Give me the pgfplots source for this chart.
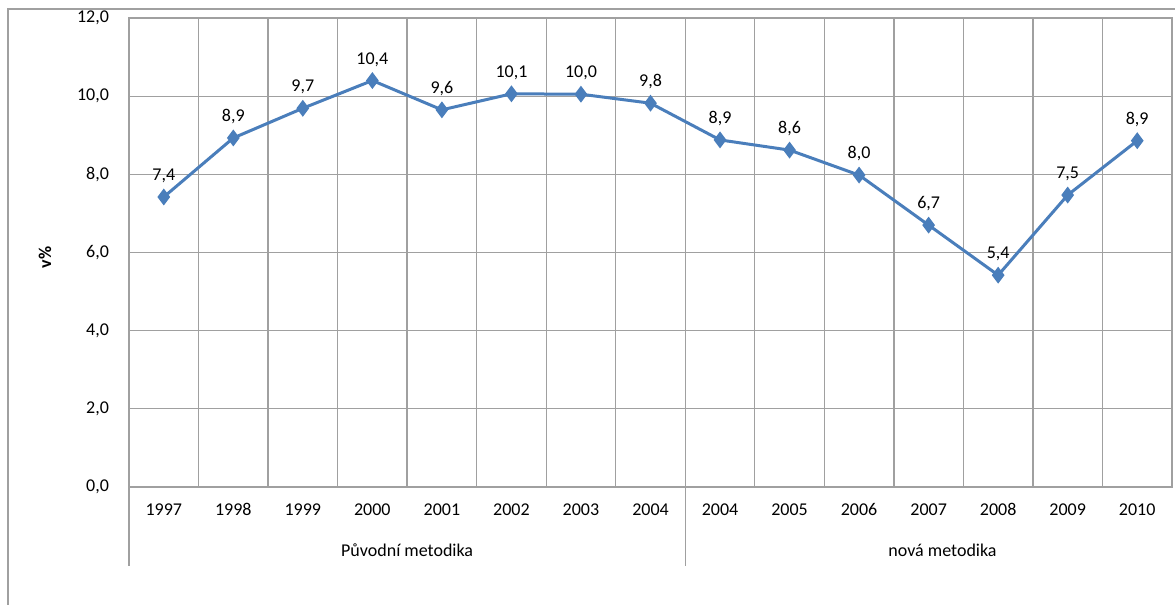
\documentclass[border=0pt]{standalone}
\usepackage{pgfplots}
\pgfplotsset{compat=1.18}
\usepackage{fontspec}
\setmainfont{Carlito}
\definecolor{lineblue}{HTML}{4A7EBB}
\definecolor{gridgray}{HTML}{A0A0A0}
\begin{document}
\begin{tikzpicture}
\useasboundingbox (0,0) rectangle (587.5pt,302.5pt);
\draw[gridgray, line width=0.7pt] (4pt,-5pt) -- (4pt,298pt) -- (600pt,298pt);
\begin{axis}[
  at={(64.5pt,59pt)}, anchor=south west, scale only axis,
  width=521.5pt, height=234.5pt,
  xmin=-0.5, xmax=14.5, ymin=0, ymax=12,
  clip=false,
  xtick={0,...,14},
  xticklabels={1997,1998,1999,2000,2001,2002,2003,2004,2004,2005,2006,2007,2008,2009,2010},
  minor xtick={-0.5,0.5,...,14.5},
  xminorgrids, ymajorgrids,
  ytick={0,2,...,12},
  major tick length=0pt, minor tick length=0pt,
  axis line style={gridgray, line width=0.65pt},
  grid style={gridgray, line width=0.65pt},
  minor grid style={gridgray, line width=0.65pt},
  font=\fontsize{9}{10}\selectfont,
  /pgf/number format/assume math mode=true,
  yticklabel style={xshift=-6.5pt, /pgf/number format/fixed, /pgf/number format/fixed zerofill, /pgf/number format/precision=1, /pgf/number format/use comma},
  xticklabel style={anchor=base, yshift=-14.5pt},
  ylabel={v\%},
  every axis y label/.style={at={(axis description cs:-0.0805,0.49)}, rotate=90, anchor=center, font=\fontsize{9}{10}\selectfont\bfseries},
]
\addplot[lineblue, line width=1.5pt, mark=diamond*, mark size=3pt,
  mark options={solid, fill=lineblue},
  nodes near coords, point meta=explicit symbolic,
  every node near coord/.append style={font=\fontsize{9}{10}\selectfont, text=black, anchor=south, yshift=3pt}]
  coordinates {
  (0,7.42) [7,4]
  (1,8.93) [8,9]
  (2,9.69) [9,7]
  (3,10.40) [10,4]
  (4,9.65) [9,6]
  (5,10.06) [10,1]
  (6,10.05) [10,0]
  (7,9.82) [9,8]
  (8,8.88) [8,9]
  (9,8.62) [8,6]
  (10,7.98) [8,0]
  (11,6.70) [6,7]
  (12,5.42) [5,4]
  (13,7.47) [7,5]
  (14,8.86) [8,9]
  };
\draw[gridgray, line width=0.65pt] (axis cs:-0.5,0) -- ([yshift=-39.5pt]axis cs:-0.5,0);
\draw[gridgray, line width=0.65pt] (axis cs:7.5,0) -- ([yshift=-39.5pt]axis cs:7.5,0);
\node[font=\fontsize{9}{10}\selectfont] at ([yshift=-31.5pt]axis cs:3.5,0) {Původní metodika};
\node[font=\fontsize{9}{10}\selectfont] at ([yshift=-31.5pt]axis cs:11.2,0) {nová metodika};
\end{axis}
\end{tikzpicture}
\end{document}
